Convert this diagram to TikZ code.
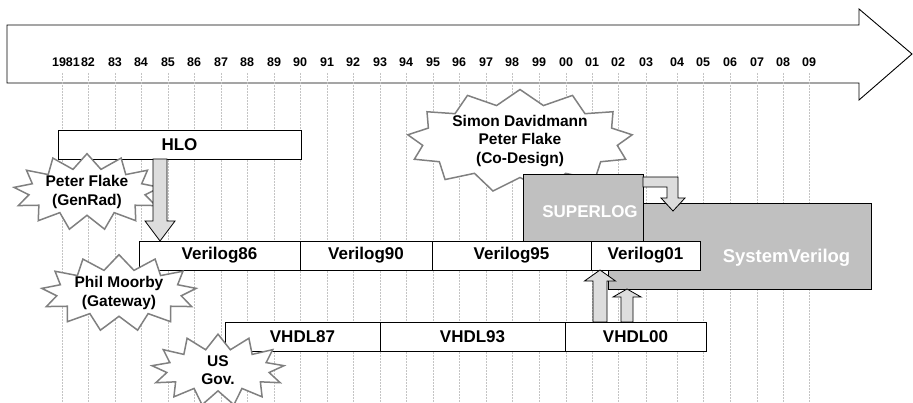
\documentclass[tikz,border=0pt]{standalone}
\usepackage{fontspec}
\setmainfont{Liberation Sans}
\usepackage{tikz}
\usetikzlibrary{calc,positioning,shapes.symbols}

\definecolor{boxgrey}{HTML}{C0C0C0}
\definecolor{arrowgrey}{HTML}{DDDDDD}
\definecolor{burstgrey}{HTML}{808080}
\definecolor{gridgrey}{HTML}{C4C4C4}

\tikzset{
  era/.style={draw, fill=white, line width=0.9pt, outer sep=0pt, inner sep=0pt,
              minimum height=29pt, font=\bfseries\fontsize{17}{19}\selectfont},
  greybox/.style={draw, fill=boxgrey, line width=0.9pt, outer sep=0pt, inner sep=0pt},
  boxtext/.style={text=white, font=\bfseries\fontsize{17}{19}\selectfont},
  year/.style={font=\bfseries\fontsize{12.5}{13}\selectfont, inner sep=0pt},
  gridline/.style={gridgrey, line width=1pt, dash pattern=on 2pt off 1pt},
  burst/.style={starburst, draw=burstgrey, fill=white, line width=1.5pt,
                starburst points=13, starburst point height=15pt, random starburst=0,
                align=center, inner sep=0pt,
                font=\bfseries\fontsize{15.5}{18.5}\selectfont},
  blockarrow/.style={draw=black, fill=arrowgrey, line width=0.8pt},
}

% vertical block arrow: tail, tip, shaft half width, head half width, head length
\newcommand\fatarrow[5]{%
  \draw[blockarrow] ($(#1)+(-#3,0)$) -- ($(#2)!#5pt!(#1)+(-#3,0)$)
    -- ($(#2)!#5pt!(#1)+(-#4,0)$) -- (#2) -- ($(#2)!#5pt!(#1)+(#4,0)$)
    -- ($(#2)!#5pt!(#1)+(#3,0)$) -- ($(#1)+(#3,0)$) -- cycle;}

\begin{document}
\begin{tikzpicture}[x=1pt, y=-1pt]
  \useasboundingbox (0,0) rectangle (913,403);

  % time axis
  \draw[line width=0.9pt, fill=white] (7,25) -- (859,25) -- (859,9) -- (912,54)
    -- (859,100) -- (859,83) -- (7,83) -- cycle;
  \node[year] (yr81) at (66,62) {1981};
  \draw[gridline] (62,73) -- (62,403);
  \foreach \x/\yr [count=\i] in {88/82,115/83,141/84,168/85,194/86,221/87,247/88,
      274/89,300/90,327/91,353/92,380/93,406/94,433/95,459/96,486/97,512/98,539/99,
      566/00,592/01,618/02,646/03,677/04,703/05,730/06,757/07,783/08,809/09} {
    \node[year] (yr\i) at (\x,62) {\yr};
    \draw[gridline] (\x,73) -- (\x,403);
  }

  \node[era, minimum width=243pt] (hlo) at (179.5,144.5) {HLO};
  \node[burst, minimum width=133pt, minimum height=66pt] (genrad) at (87,192)
    {Peter Flake\\(GenRad)};
  \node[burst, minimum width=226pt, minimum height=103pt] (codesign) at (520,141)
    {Simon Davidmann\\Peter Flake\\(Co-Design)};

  % SystemVerilog and its sources
  \node[greybox, minimum width=263pt, minimum height=86pt,
        label={[boxtext, font=\bfseries\fontsize{18.5}{20}\selectfont,
                xshift=47pt, yshift=-12pt]center:SystemVerilog}] (sysv) at (739.5,246) {};
  \node[greybox, minimum width=120pt, minimum height=67pt,
        label={[boxtext, xshift=7pt, yshift=-4pt]center:SUPERLOG}] (superlog) at (583,207.5) {};

  \node[era, minimum width=161pt] (v86) at (219.5,255.5) {Verilog86};
  \node[era, minimum width=132pt, right=0pt of v86] (v90) {Verilog90};
  \node[era, minimum width=159pt, right=0pt of v90] (v95) {Verilog95};
  \node[era, minimum width=109pt, right=0pt of v95] (v01) {Verilog01};
  \node[burst, minimum width=132pt, minimum height=65pt] (gateway) at (119,293)
    {Phil Moorby\\(Gateway)};

  \node[era, minimum width=155pt] (vhdl87) at (302.5,336.5) {VHDL87};
  \node[era, minimum width=185pt, right=0pt of vhdl87] (vhdl93) {VHDL93};
  \node[era, minimum width=141pt, right=0pt of vhdl93] (vhdl00) {VHDL00};
  \node[burst, minimum width=133pt, minimum height=68pt] (usgov) at (218,370)
    {US\\Gov.};

  % arrows
  \coordinate (hlotail) at ($(hlo.south west)+(102,0)$);
  \coordinate (hlotip) at (hlotail |- v86.north);
  \fatarrow{hlotail}{hlotip}{7}{15}{20}
  \coordinate (vhdltail) at ($(vhdl00.north west)+(35,0)$);
  \coordinate (v01tip) at (vhdltail |- v01.south);
  \fatarrow{vhdltail}{v01tip}{7}{15.5}{11}
  \coordinate (vhdltail2) at ($(vhdl00.north west)+(62,0)$);
  \coordinate (sysvtip) at (vhdltail2 |- sysv.south);
  \fatarrow{vhdltail2}{sysvtip}{6}{14}{8}
  \draw[blockarrow, shift={(superlog.north east)}] (0,3) -- (35,3) -- (35,24)
    -- (42,24) -- (30,37) -- (18,24) -- (24,24) -- (24,13) -- (0,13) -- cycle;
\end{tikzpicture}
\end{document}
